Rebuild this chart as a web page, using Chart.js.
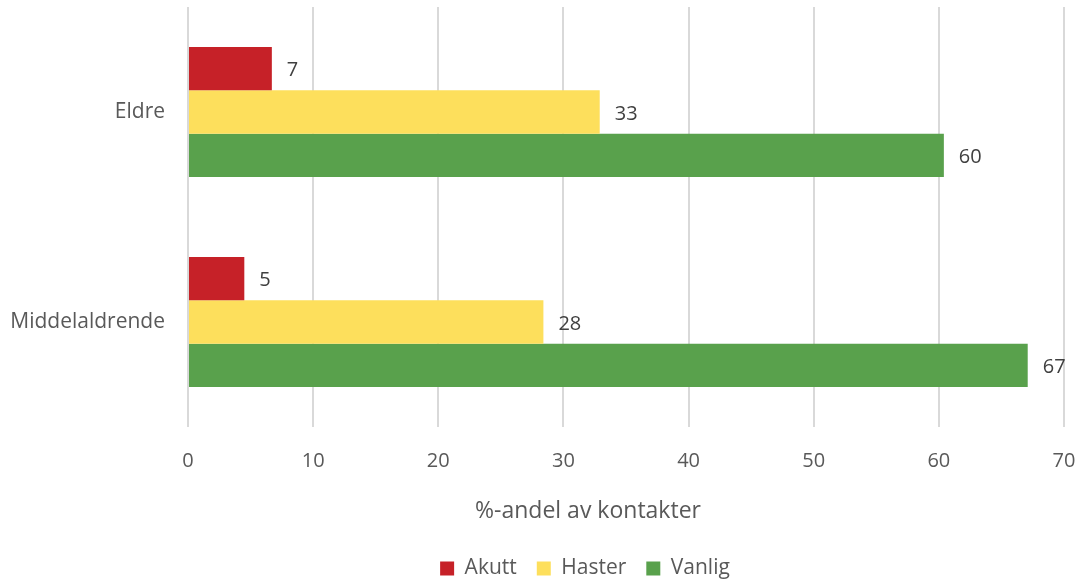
<!DOCTYPE html>
<html>
<head>
<meta charset="utf-8">
<script src="https://cdn.jsdelivr.net/npm/chart.js@4.4.0/dist/chart.umd.min.js"></script>
<style>
  html, body { margin: 0; padding: 0; background: #fff; }
  #wrap { width: 1080px; height: 580px; }
</style>
</head>
<body>
<div id="wrap"><canvas id="chart" width="1080" height="580"></canvas></div>
<script>
const categories = ['Eldre', 'Middelaldrende'];
const akutt = [6.7, 4.5];
const haster = [32.9, 28.4];
const vanlig = [60.4, 67.1];
const akuttLabels = ['7', '5'];
const hasterLabels = ['33', '28'];
const vanligLabels = ['60', '67'];
const xTicks = [0, 10, 20, 30, 40, 50, 60, 70];
const xTitle = '%-andel av kontakter';

const FONT = "'Open Sans', 'DejaVu Sans', sans-serif";
const TEXT = '#595959';

// value labels next to the bar ends, plus the x title (excel puts it a bit left of centre)
const extras = {
    id: 'extras',
    afterLayout(chart) {
        // legend sits lower and right-of-centre in the original
        const lg = chart.legend;
        lg.top += 15; lg.bottom += 15;
        lg.left += 53; lg.right += 53;
    },
    afterDatasetsDraw(chart) {
        const ctx = chart.ctx;
        ctx.save();
        ctx.font = '20px ' + FONT;
        ctx.fillStyle = '#404040';
        ctx.textAlign = 'left';
        ctx.textBaseline = 'middle';
        chart.data.datasets.forEach((ds, i) => {
            chart.getDatasetMeta(i).data.forEach((bar, j) => {
                ctx.fillText(ds.valueLabels[j], bar.x + 15, bar.y + 2);
            });
        });
        const xs = chart.scales.x;
        ctx.font = '23px ' + FONT;
        ctx.fillStyle = TEXT;
        ctx.textAlign = 'center';
        ctx.fillText(xTitle, (xs.left + xs.right) / 2 - 38, xs.bottom - 12);
        ctx.restore();
    }
};

new Chart(document.getElementById('chart'), {
    type: 'bar',
    data: {
        labels: categories,
        datasets: [
            { label: 'Akutt', data: akutt, valueLabels: akuttLabels, backgroundColor: '#C62128' },
            { label: 'Haster', data: haster, valueLabels: hasterLabels, backgroundColor: '#FDDF5C' },
            { label: 'Vanlig', data: vanlig, valueLabels: vanligLabels, backgroundColor: '#59A14C' }
        ]
    },
    options: {
        indexAxis: 'y',
        responsive: false,
        animation: false,
        layout: { padding: { top: 7, right: 16, left: 0, bottom: 6 } },
        datasets: { bar: { categoryPercentage: 0.62, barPercentage: 1.0 } },
        scales: {
            x: {
                min: 0,
                max: 70,
                afterBuildTicks(axis) { axis.ticks = xTicks.map(v => ({ value: v })); },
                grid: { color: '#D9D9D9', lineWidth: 2, drawTicks: true, tickLength: 22, tickColor: 'rgba(0,0,0,0)' },
                border: { display: false },
                ticks: { color: TEXT, font: { family: FONT, size: 20 }, padding: 0 },
                afterFit(axis) { axis.height = 96; }
            },
            y: {
                grid: { color: 'rgba(0,0,0,0)', drawTicks: true, tickLength: 23 },
                border: { display: false },
                ticks: { color: TEXT, font: { family: FONT, size: 21, lineHeight: 0.5 }, padding: 0 },
                afterFit(axis) { axis.width = 188; }
            }
        },
        plugins: {
            legend: {
                position: 'bottom',
                labels: {
                    color: TEXT,
                    font: { family: FONT, size: 21 },
                    boxWidth: 14,
                    boxHeight: 14,
                    padding: 20
                }
            },
            tooltip: { enabled: false }
        }
    },
    plugins: [extras]
});
</script>
</body>
</html>
